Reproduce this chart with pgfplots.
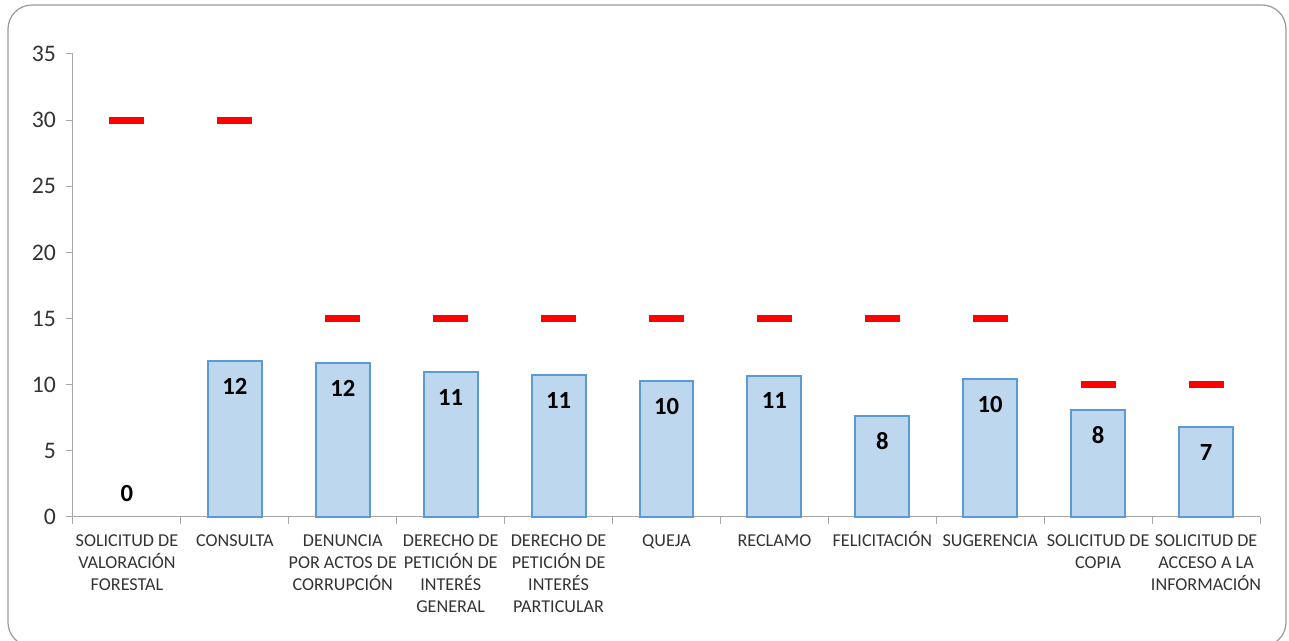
\documentclass[border=0pt]{standalone}
\usepackage{fontspec}
\setmainfont{Carlito}
\usepackage{pgfplots}
\pgfplotsset{compat=1.18}
\definecolor{barfill}{HTML}{BDD7EE}
\definecolor{baredge}{HTML}{5B9BD5}
\definecolor{axgray}{HTML}{A6A6A6}
\definecolor{txt}{HTML}{333333}
\newcommand{\st}{\rule{0pt}{12pt}}
\begin{document}
\begin{tikzpicture}
\useasboundingbox (-54.75pt,-93pt) rectangle (912pt,387.75pt);
\draw[gray!80, line width=0.9pt, rounded corners=18pt] (-48.75pt,-97pt) rectangle (909.75pt,384pt);
\begin{axis}[
  width=890.25pt, height=347.25pt, scale only axis,
  xmin=-0.5, xmax=10.5, ymin=0, ymax=35,
  axis x line=bottom, axis y line=left,
  axis line style={axgray, line width=0.75pt, -},
  ytick={0,5,10,15,20,25,30,35},
  xtick={-0.5,0.5,1.5,2.5,3.5,4.5,5.5,6.5,7.5,8.5,9.5,10.5},
  x tick label as interval=true,
  xticklabels={{\st SOLICITUD DE\\VALORACIÓN\\FORESTAL}, {\st CONSULTA}, {\st DENUNCIA\\POR ACTOS DE\\CORRUPCIÓN}, {\st DERECHO DE\\PETICIÓN DE\\INTERÉS\\GENERAL}, {\st DERECHO DE\\PETICIÓN DE\\INTERÉS\\PARTICULAR}, {\st QUEJA}, {\st RECLAMO}, {\st FELICITACIÓN}, {\st SUGERENCIA}, {\st SOLICITUD DE\\COPIA}, {\st SOLICITUD DE\\ACCESO A LA\\INFORMACIÓN}},
  tick align=outside, major tick length=5.25pt,
  tick style={axgray, line width=0.75pt},
  /pgf/number format/assume math mode=true,
  yticklabel style={font=\fontsize{17.8}{20}\selectfont, color=txt, xshift=-4pt},
  xticklabel style={font=\fontsize{13.6}{16.5}\selectfont, color=txt, align=center, anchor=north, yshift=-1pt},
  clip=false,
]
\addplot[ybar, bar width=0.5, fill=barfill, draw=baredge, line width=1.5pt,
  nodes near coords={\pgfmathprintnumber[fixed,precision=0]{\pgfplotspointmeta}},
  every node near coord/.append style={font=\bfseries\fontsize{18.5}{20}\selectfont, color=black, anchor=center, yshift=-18.75pt}]
coordinates {(1,11.79) (2,11.64) (3,10.96) (4,10.73) (5,10.28) (6,10.66) (7,7.63) (8,10.43) (9,8.09) (10,6.80)};
\addplot[draw=none, mark=none,
  nodes near coords={\pgfmathprintnumber[fixed,precision=0]{\pgfplotspointmeta}},
  every node near coord/.append style={font=\bfseries\fontsize{18.5}{20}\selectfont, color=black, anchor=center, yshift=17.25pt}]
coordinates {(0,0)};
\addplot[only marks, mark=-, mark size=13.1pt, color=red, mark options={line width=5.25pt}]
coordinates {(0,30) (1,30) (2,15) (3,15) (4,15) (5,15) (6,15) (7,15) (8,15) (9,10) (10,10)};
\end{axis}
\end{tikzpicture}
\end{document}
